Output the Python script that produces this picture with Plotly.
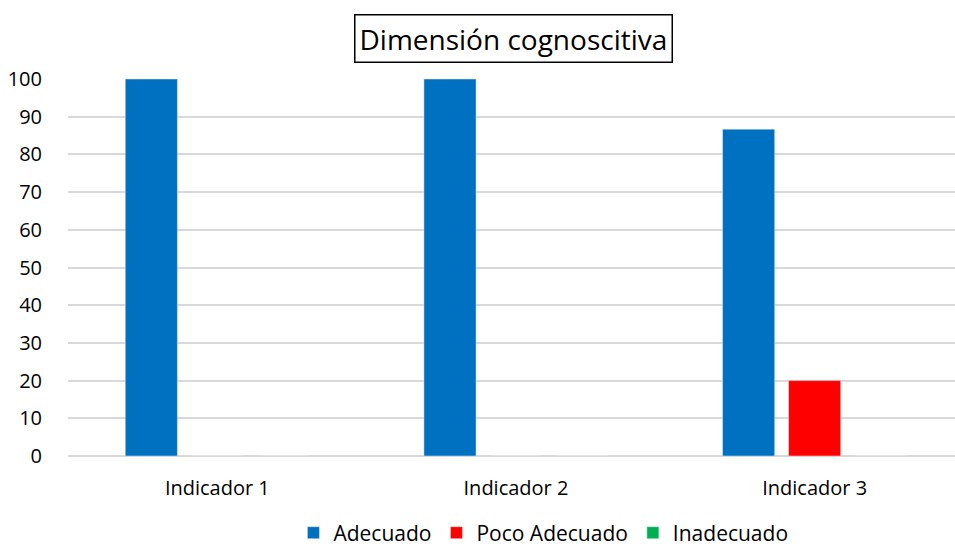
import plotly.graph_objects as go

categories = ["Indicador 1", "Indicador 2", "Indicador 3"]
adecuado = [100, 100, 86.7]
poco_adecuado = [0, 0, 20]
inadecuado = [0, 0, 0]
y_ticks = list(range(0, 101, 10))

FONT = "Open Sans, Liberation Sans, sans-serif"

fig = go.Figure()
fig.add_bar(x=categories, y=adecuado, name="Adecuado", marker_color="#0070C0")
fig.add_bar(x=categories, y=poco_adecuado, name="Poco Adecuado", marker_color="#FF0000")
fig.add_bar(x=categories, y=inadecuado, name="Inadecuado", marker_color="#00B050")

fig.update_layout(
    width=955, height=548,
    paper_bgcolor="white", plot_bgcolor="white",
    barmode="group", bargap=0.337, bargroupgap=0.21,
    margin=dict(l=68, r=0, t=79, b=92, autoexpand=False),
    font=dict(family=FONT, size=17, color="#000000"),
    xaxis=dict(range=[-0.5, 2.47], showgrid=False, showline=False, ticks="",
               ticklabelstandoff=18, automargin=False,
               tickfont=dict(size=20, color="#000000")),
    yaxis=dict(range=[0, 100], tickvals=y_ticks, showgrid=True, gridcolor="#D9D9D9",
               gridwidth=1.5, zeroline=True, zerolinecolor="#D9D9D9", zerolinewidth=1.5,
               showline=False, ticks="", ticklabelstandoff=25, automargin=False,
               tickfont=dict(size=20, color="#000000")),
    legend=dict(orientation="h", x=0.536, xanchor="center", y=-0.15, yanchor="top",
                font=dict(size=21, color="#000000"), itemwidth=30, tracegroupgap=0),
    annotations=[dict(text="Dimensión cognoscitiva", xref="paper", yref="paper",
                      x=(513 - 68) / 887, y=1, yshift=41, yanchor="middle",
                      showarrow=False, font=dict(size=28, color="#000000"),
                      bordercolor="#000000", borderwidth=1.5, borderpad=4,
                      bgcolor="white")],
)

fig.write_html("out.html", config={"displayModeBar": False},
               post_script="document.body.style.margin='0';document.body.style.overflow='hidden';")
